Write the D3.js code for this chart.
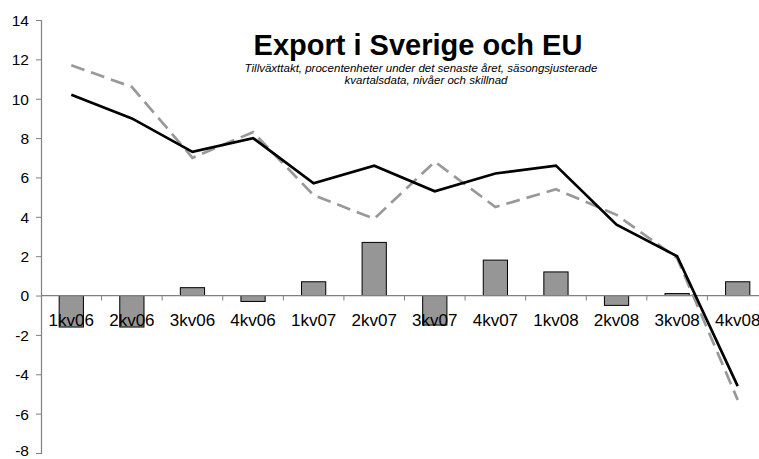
<!DOCTYPE html>
<html>
<head>
<meta charset="utf-8">
<script src="https://cdn.jsdelivr.net/npm/d3@7"></script>
<style>
  body { margin: 0; background: #fff; }
  text { font-family: Arial, "Liberation Sans", sans-serif; }
</style>
</head>
<body>
<div id="chart"></div>
<script>
var quarters = ['1kv06', '2kv06', '3kv06', '4kv06', '1kv07', '2kv07', '3kv07', '4kv07', '1kv08', '2kv08', '3kv08', '4kv08'];
var sverige = [10.2, 9.0, 7.3, 8.0, 5.7, 6.6, 5.3, 6.2, 6.6, 3.6, 2.0, -4.6];
var eu = [11.7, 10.6, 7.0, 8.3, 5.1, 3.9, 6.8, 4.5, 5.4, 4.1, 1.9, -5.3];
var skillnad = [-1.6, -1.6, 0.4, -0.3, 0.7, 2.7, -1.5, 1.8, 1.2, -0.5, 0.1, 0.7];
var yTicks = [-8, -6, -4, -2, 0, 2, 4, 6, 8, 10, 12, 14];

var width = 759, height = 459;

var svg = d3.select('#chart')
  .append('svg')
  .attr('width', width)
  .attr('height', height);

var x = d3.scaleBand().domain(quarters).range([41, 768]).paddingInner(0).paddingOuter(0);
var y = d3.scaleLinear().domain([-8, 14]).range([453, 20]);

// bars
svg.append('g')
  .selectAll('rect')
  .data(skillnad)
  .enter()
  .append('rect')
  .attr('x', function (d, i) { return x(quarters[i]) + x.bandwidth() * 0.3; })
  .attr('width', x.bandwidth() * 0.4)
  .attr('y', function (d) { return y(Math.max(0, d)); })
  .attr('height', function (d) { return Math.abs(y(d) - y(0)); })
  .style('fill', '#969696')
  .style('stroke', '#000')
  .style('stroke-width', 1);

// y axis
var yAxis = svg.append('g')
  .attr('transform', 'translate(41,0)')
  .call(d3.axisLeft(y).tickValues(yTicks).tickSize(5).tickFormat(function (d) { return String(d); }));
yAxis.select('.domain').attr('stroke', '#808080').attr('stroke-width', 1.2);
yAxis.selectAll('.tick line').attr('stroke', '#808080');
yAxis.selectAll('.tick text')
  .attr('x', -12)
  .attr('dy', function (d) { return d === -8 ? '0.15em' : '0.35em'; })
  .style('font-size', '15.5px')
  .style('font-family', 'Arial, "Liberation Sans", sans-serif')
  .attr('fill', '#000');

// zero line with category ticks
var xAxis = svg.append('g')
  .attr('transform', 'translate(0,' + y(0) + ')');
xAxis.append('line')
  .attr('x1', 41).attr('x2', 768)
  .attr('stroke', '#808080').attr('stroke-width', 1.2);
xAxis.selectAll('.xt')
  .data(quarters.slice(1))
  .enter()
  .append('line')
  .attr('x1', function (d) { return x(d); })
  .attr('x2', function (d) { return x(d); })
  .attr('y1', 0).attr('y2', 5)
  .attr('stroke', '#808080');

// lines
var line = d3.line()
  .x(function (d, i) { return x(quarters[i]) + x.bandwidth() / 2; })
  .y(function (d) { return y(d); });

svg.append('path')
  .datum(eu)
  .attr('d', line)
  .attr('fill', 'none')
  .attr('stroke', '#999999')
  .attr('stroke-width', 2.7)
  .attr('stroke-dasharray', '14,7');

svg.append('path')
  .datum(sverige)
  .attr('d', line)
  .attr('fill', 'none')
  .attr('stroke', '#000')
  .attr('stroke-width', 2.7);

// category labels
svg.append('g')
  .selectAll('text')
  .data(quarters)
  .enter()
  .append('text')
  .attr('x', function (d) { return x(d) + x.bandwidth() / 2; })
  .attr('y', y(0) + 30)
  .attr('text-anchor', 'middle')
  .style('font-size', '17px')
  .text(function (d) { return d; });

// titles
svg.append('text')
  .attr('x', 418)
  .attr('y', 55)
  .attr('text-anchor', 'middle')
  .style('font-size', '29px')
  .style('font-weight', 'bold')
  .text('Export i Sverige och EU');

svg.append('text')
  .attr('x', 421)
  .attr('y', 72)
  .attr('text-anchor', 'middle')
  .style('font-size', '11.5px')
  .style('font-style', 'italic')
  .text('Tillväxttakt, procentenheter under det senaste året, säsongsjusterade');

svg.append('text')
  .attr('x', 426)
  .attr('y', 84)
  .attr('text-anchor', 'middle')
  .style('font-size', '11.5px')
  .style('font-style', 'italic')
  .text('kvartalsdata, nivåer och skillnad');
</script>
</body>
</html>
